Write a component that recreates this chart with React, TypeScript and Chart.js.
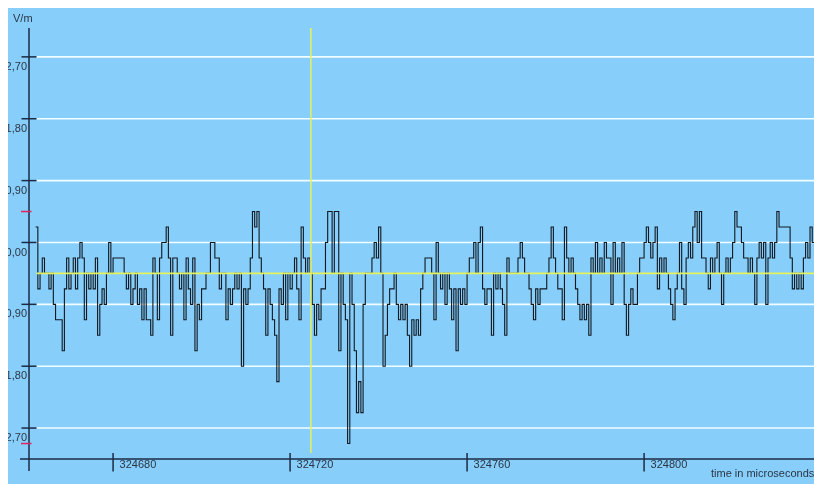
import React, { useEffect, useRef } from "react";
import { Chart, registerables } from "chart.js";

Chart.register(...registerables);

// ---- data ----
const yTickValues = [2.7, 1.8, 0.9, 0, -0.9, -1.8, -2.7];
const yTickLabels = ["2,70", "1,80", "0,90", "0,00", "-0,90", "-1,80", "-2,70"];
const xTickValues = [324680, 324720, 324760, 324800];
const xTickLabels = ["324680", "324720", "324760", "324800"];
const yAxisTitle = "V/m";
const xAxisTitle = "time in microseconds";

// field samples, in steps of the 0.225 V/m quantisation
const quantum = 0.225;
const fieldLevels = [
  1, -3, -2, -1, -2, -2, -3, -2, -4, -5,
  -5, -5, -7, -3, -1, -3, -2, -1, -3, -1,
  0, -1, -5, -2, -3, -2, -3, -1, -6, -4,
  -3, -4, -2, 0, -2, -1, -1, -1, -1, -1,
  -2, -3, -2, -4, -3, -2, -4, -3, -5, -3,
  -5, -5, -6, -1, -2, -5, -1, 0, 0, 1,
  -1, -6, -1, -1, -2, -3, -2, -5, -1, -3,
  -4, -1, -7, -4, -5, -3, -3, -2, -2, 0,
  0, -1, -1, -3, -2, -2, -5, -3, -4, -3,
  -2, -3, -2, -8, -3, -4, -3, -1, 2, 1,
  2, -1, -2, -3, -6, -3, -4, -5, -6, -9,
  -3, -4, -2, -5, -2, -3, -2, -1, -3, -5,
  1, -1, -2, -1, -2, -4, -6, -4, -5, -3,
  -3, 0, 2, 2, -2, 2, 2, -7, -2, -4,
  -5, -13, -2, -4, -7, -11, -9, -11, -4, -2,
  -2, -2, -1, 0, -1, 1, -2, -8, -6, -4,
  -3, -3, -2, -4, -5, -4, -5, -4, -6, -8,
  -5, -6, -5, -6, -3, -2, -1, -1, -1, -2,
  -5, 0, -2, -3, -2, -4, -2, -3, -5, -3,
  -7, -3, -4, -3, -4, -2, -1, -1, 0, -2,
  0, 1, -3, -4, -3, -3, -6, -2, -3, -2,
  -3, -4, -6, -1, -2, -2, -2, -2, -1, 0,
  -1, -2, -2, -3, -4, -5, -3, -4, -3, -3,
  -3, -2, -1, 1, -1, -2, -3, -3, -5, 1,
  -1, -2, -1, -2, -3, -4, -5, -4, -5, -4,
  -6, -1, -2, 0, -2, -1, -2, 0, -1, -1,
  -4, 0, -2, -1, -2, 0, -4, -6, -4, -3,
  -4, -4, -2, -1, -1, 0, 1, 0, -1, 0,
  1, -3, -1, -2, -1, -2, -3, -4, -5, -3,
  -2, 0, -3, -4, -1, 0, -1, 1, 2, 0,
  2, -1, -1, -2, -3, -1, -2, -1, 0, -2,
  -4, -2, -1, -2, -1, 0, 2, 1, 1, 0,
  -1, -1, -2, -1, -2, -4, -1, 0, -1, 0,
  -4, -1, 0, -1, 0, 2, 1, 1, 1, 1,
  1, -1, -3, -2, -3, -2, -3, -1, 0, -1, 1, 0, 0,
];
const sampleStart = 324662.5; // µs
const samplePeriod = 0.5; // µs
const referenceLevel = -0.45; // yellow horizontal line
const markerTime = 324724.7; // yellow vertical line
const xMin = 324661;
const xMax = 324838.4;
const yMin = -3.15;
const yMax = 3.12;

const FONT = '11px "Liberation Sans", Arial, sans-serif';
const BG = "#87CEFA";
const AXIS = "#1b2b45";
const TEXT = "#2b3644";
const GRID = "#f2fdff";
const YELLOW = "#e6f25a";
const RED = "#e0245e";

const overlayPlugin = {
  id: "overlay",
  beforeDraw(chart: any) {
    const ctx = chart.ctx;
    ctx.save();
    ctx.fillStyle = BG;
    ctx.fillRect(0, 0, chart.width, chart.height);
    ctx.restore();
  },
  beforeDatasetsDraw(chart: any) {
    const ctx = chart.ctx;
    const { left, right } = chart.chartArea;
    const y = chart.scales.y;
    ctx.save();
    ctx.strokeStyle = GRID;
    ctx.lineWidth = 1.6;
    yTickValues.forEach((v) => {
      const py = y.getPixelForValue(v);
      ctx.beginPath();
      ctx.moveTo(left + 7.5, py);
      ctx.lineTo(right, py);
      ctx.stroke();
    });
    ctx.restore();
  },
  afterDatasetsDraw(chart: any) {
    const ctx = chart.ctx;
    const { left, right, top, bottom } = chart.chartArea;
    const x = chart.scales.x;
    const y = chart.scales.y;
    ctx.save();
    // yellow reference lines
    ctx.strokeStyle = YELLOW;
    ctx.lineWidth = 1.8;
    const ry = y.getPixelForValue(referenceLevel);
    ctx.beginPath();
    ctx.moveTo(left + 7.5, ry);
    ctx.lineTo(right, ry);
    ctx.stroke();
    const mx = x.getPixelForValue(markerTime);
    ctx.lineWidth = 1.5;
    ctx.beginPath();
    ctx.moveTo(mx, top);
    ctx.lineTo(mx, bottom - 6);
    ctx.stroke();

    // axes
    ctx.strokeStyle = AXIS;
    ctx.lineWidth = 1.5;
    ctx.beginPath();
    ctx.moveTo(left, top);
    ctx.lineTo(left, bottom + 12);
    ctx.moveTo(left - 9, bottom);
    ctx.lineTo(right, bottom);
    ctx.stroke();

    // y ticks + labels
    ctx.font = FONT;
    ctx.fillStyle = TEXT;
    ctx.textAlign = "right";
    ctx.textBaseline = "middle";
    yTickValues.forEach((v, i) => {
      const py = y.getPixelForValue(v);
      ctx.beginPath();
      ctx.moveTo(left - 7.5, py);
      ctx.lineTo(left + 7.5, py);
      ctx.stroke();
      ctx.fillText(yTickLabels[i], left - 2, py + 10);
    });

    // red extreme markers (max / min of the signal)
    const vals = fieldLevels.map((l) => l * quantum);
    const vmax = Math.max(...vals);
    const vmin = Math.min(...vals);
    ctx.strokeStyle = RED;
    ctx.lineWidth = 1.5;
    [vmax, vmin].forEach((v) => {
      const py = y.getPixelForValue(v);
      ctx.beginPath();
      ctx.moveTo(left - 8, py);
      ctx.lineTo(left + 2.5, py);
      ctx.stroke();
    });

    // x ticks + labels
    ctx.strokeStyle = AXIS;
    ctx.lineWidth = 1.5;
    ctx.textAlign = "left";
    xTickValues.forEach((v, i) => {
      const px = x.getPixelForValue(v);
      ctx.beginPath();
      ctx.moveTo(px, bottom - 6);
      ctx.lineTo(px, bottom + 12.5);
      ctx.stroke();
      ctx.fillText(xTickLabels[i], px + 6.5, bottom + 5.5);
    });

    // axis titles
    ctx.fillText(yAxisTitle, 5, 10.5);
    ctx.fillText(xAxisTitle, 703, bottom + 15);
    ctx.restore();
  },
};

export default function App() {
  const ref = useRef<HTMLCanvasElement | null>(null);

  useEffect(() => {
    document.documentElement.style.overflow = "hidden";
    document.body.style.overflow = "hidden";
    const canvas = ref.current;
    if (!canvas) return;
    const points = fieldLevels.map((l, i) => ({
      x: sampleStart + i * samplePeriod,
      y: l * quantum,
    }));
    const chart = new Chart(canvas, {
      type: "line",
      data: {
        datasets: [
          {
            data: points,
            borderColor: "#101820",
            borderWidth: 1.1,
            pointRadius: 0,
            stepped: true,
            tension: 0,
            fill: false,
          },
        ],
      },
      options: {
        animation: false,
        responsive: true,
        maintainAspectRatio: false,
        devicePixelRatio: 1,
        layout: { padding: { left: 21, top: 20, right: 0, bottom: 25 } },
        plugins: {
          legend: { display: false },
          tooltip: { enabled: false },
        },
        events: [],
        scales: {
          x: { type: "linear", min: xMin, max: xMax, display: false },
          y: { type: "linear", min: yMin, max: yMax, display: false },
        },
      },
      plugins: [overlayPlugin],
    } as any);
    return () => chart.destroy();
  }, []);

  return (
    <div
      style={{
        position: "fixed",
        left: 8,
        top: 8,
        width: 806,
        height: 476,
      }}
    >
      <canvas ref={ref} style={{ display: "block" }} />
    </div>
  );
}
